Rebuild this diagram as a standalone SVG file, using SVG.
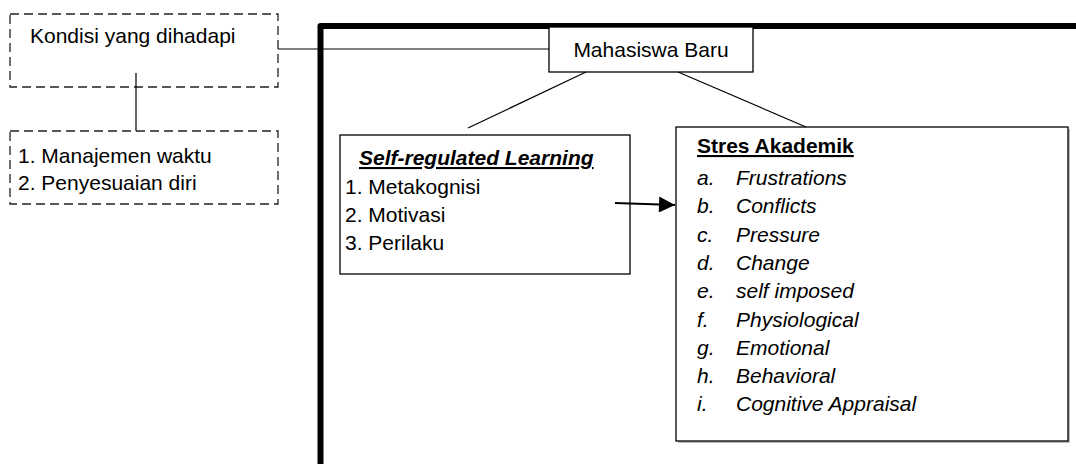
<svg xmlns="http://www.w3.org/2000/svg" width="1076" height="464" viewBox="0 0 1076 464">
<style>
text{font-family:"Liberation Sans",Arial,sans-serif;font-size:21px;fill:#000}
.b{font-weight:bold;text-decoration:underline}
.i{font-style:italic}
.box{fill:#fff;stroke:#000;stroke-width:1.3}
.dash{fill:#fff;stroke:#222;stroke-width:1.3;stroke-dasharray:9,5}
.ln{stroke:#000;stroke-width:1.2;fill:none}
</style>
<defs>
<marker id="ah" viewBox="0 0 10 10" refX="10" refY="5" markerWidth="17" markerHeight="16" markerUnits="userSpaceOnUse" orient="auto">
<path d="M0,0 L10,5 L0,10 Z" fill="#000"/>
</marker>
</defs>
<rect width="1076" height="464" fill="#fff"/>
<path d="M320.5,464 V26 H1076" fill="none" stroke="#000" stroke-width="6" stroke-linejoin="round"/>
<g id="kondisi">
<rect class="dash" x="10" y="14" width="268" height="73"/>
<text x="30" y="43">Kondisi yang dihadapi</text>
</g>
<g id="kondisi-list">
<rect class="dash" x="10" y="131" width="268" height="73"/>
<text x="18" y="163">1. Manajemen waktu</text>
<text x="18" y="190">2. Penyesuaian diri</text>
</g>
<g id="mahasiswa">
<rect class="box" x="549" y="27" width="204" height="45"/>
<text x="651" y="57" text-anchor="middle">Mahasiswa Baru</text>
</g>
<g id="srl">
<rect class="box" x="340" y="135" width="290" height="139"/>
<text x="359" y="165" class="b i">Self-regulated Learning</text>
<text x="345" y="194">1. Metakognisi</text>
<text x="345" y="222">2. Motivasi</text>
<text x="345" y="250">3. Perilaku</text>
</g>
<g id="stres">
<rect x="678" y="129" width="392" height="314" fill="#bbb"/>
<rect class="box" x="676" y="127" width="392" height="314"/>
<text x="697" y="153" class="b">Stres Akademik</text>
<text x="697" y="185" class="i">a.</text><text x="736" y="185" class="i">Frustrations</text>
<text x="697" y="213" class="i">b.</text><text x="736" y="213" class="i">Conflicts</text>
<text x="697" y="242" class="i">c.</text><text x="736" y="242" class="i">Pressure</text>
<text x="697" y="270" class="i">d.</text><text x="736" y="270" class="i">Change</text>
<text x="697" y="298" class="i">e.</text><text x="736" y="298" class="i">self imposed</text>
<text x="697" y="327" class="i">f.</text><text x="736" y="327" class="i">Physiological</text>
<text x="697" y="355" class="i">g.</text><text x="736" y="355" class="i">Emotional</text>
<text x="697" y="383" class="i">h.</text><text x="736" y="383" class="i">Behavioral</text>
<text x="697" y="411" class="i">i.</text><text x="736" y="411" class="i">Cognitive Appraisal</text>
</g>
<g id="connectors">
<line class="ln" x1="278" y1="49" x2="549" y2="49"/>
<line class="ln" x1="136" y1="73" x2="136" y2="131"/>
<line class="ln" x1="586" y1="72" x2="468" y2="128"/>
<line class="ln" x1="678" y1="72" x2="806" y2="127"/>
<line x1="615" y1="203" x2="675" y2="205" stroke="#000" stroke-width="2.2" marker-end="url(#ah)"/>
</g>
</svg>
